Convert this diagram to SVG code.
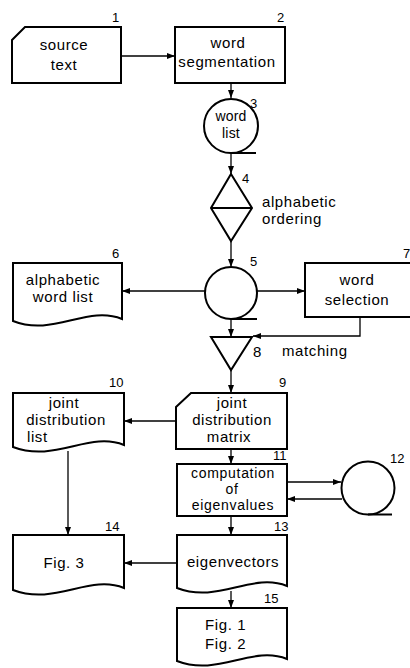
<svg xmlns="http://www.w3.org/2000/svg" width="410" height="668" viewBox="0 0 410 668">
<style>
.s{fill:none;stroke:#000;stroke-width:2;stroke-linejoin:miter}
.c{fill:none;stroke:#000;stroke-width:1.3}
.t{font-family:"Liberation Sans",Arial,sans-serif;font-size:15px;letter-spacing:0.6px;fill:#000}
.m{text-anchor:middle}
.n{font-family:"Liberation Sans",Arial,sans-serif;font-size:13px;fill:#000}
.k{font-size:14px;letter-spacing:0.7px}
</style>
<defs>
<marker id="a" markerUnits="userSpaceOnUse" markerWidth="8" markerHeight="6" refX="8" refY="3" orient="auto">
<path d="M0,0 L8,3 L0,6 z" fill="#000"/>
</marker>
</defs>
<rect width="410" height="668" fill="#fff"/>
<g id="connectors">
<line class="c" x1="121" y1="56" x2="175" y2="56" marker-end="url(#a)"/>
<line class="c" x1="231" y1="83" x2="231" y2="98" marker-end="url(#a)"/>
<line class="c" x1="231" y1="153" x2="231" y2="174" marker-end="url(#a)"/>
<line class="c" x1="231" y1="241" x2="231" y2="267" marker-end="url(#a)"/>
<line class="c" x1="205" y1="291" x2="122" y2="291" marker-end="url(#a)"/>
<line class="c" x1="257" y1="291" x2="305" y2="291" marker-end="url(#a)"/>
<line class="c" x1="231" y1="319" x2="231" y2="337" marker-end="url(#a)"/>
<polyline class="c" points="360,317 360,336 253,336" marker-end="url(#a)"/>
<line class="c" x1="231" y1="370" x2="231" y2="393" marker-end="url(#a)"/>
<line class="c" x1="176" y1="421" x2="124" y2="421" marker-end="url(#a)"/>
<line class="c" x1="68" y1="451" x2="68" y2="535" marker-end="url(#a)"/>
<line class="c" x1="231" y1="449" x2="231" y2="464" marker-end="url(#a)"/>
<line class="c" x1="287" y1="482" x2="341" y2="482" marker-end="url(#a)"/>
<line class="c" x1="342" y1="499" x2="287" y2="499" marker-end="url(#a)"/>
<line class="c" x1="231" y1="516" x2="231" y2="535" marker-end="url(#a)"/>
<line class="c" x1="177" y1="563" x2="124" y2="563" marker-end="url(#a)"/>
<line class="c" x1="231" y1="591" x2="231" y2="608" marker-end="url(#a)"/>
</g>
<g id="n1">
<path class="s" d="M12,40 L25,27 H121 V83 H12 Z"/>
<text class="t m" x="64" y="50">source</text>
<text class="t m" x="64" y="70">text</text>
<text class="n" x="112" y="22">1</text>
</g>
<g id="n2">
<rect class="s" x="175" y="27" width="110" height="56"/>
<text class="t m" x="228" y="48">word</text>
<text class="t m" x="227" y="67">segmentation</text>
<text class="n" x="277" y="22">2</text>
</g>
<g id="n3">
<circle class="s" cx="231" cy="126" r="27"/>
<line class="s" x1="231" y1="153" x2="256" y2="153"/>
<text class="t m" x="231" y="121" style="font-size:14px;letter-spacing:0.2px">word</text>
<text class="t m" x="231" y="138" style="font-size:14px;letter-spacing:0.2px">list</text>
<text class="n" x="250" y="108">3</text>
</g>
<g id="n4">
<path class="s" d="M231,174 L252,208 L231,241 L211,208 Z M211,208 H252"/>
<text class="n" x="242" y="183">4</text>
<text class="t" x="262" y="207">alphabetic</text>
<text class="t" x="262" y="224">ordering</text>
</g>
<g id="n5">
<circle class="s" cx="231" cy="293" r="26"/>
<line class="s" x1="231" y1="319" x2="257" y2="319"/>
<text class="n" x="250" y="266">5</text>
</g>
<g id="n6">
<path class="s" d="M13,263 H122 V319 C87,305 53,337 13,321 Z"/>
<text class="t m" x="63" y="285">alphabetic</text>
<text class="t m" x="63" y="302">word  list</text>
<text class="n" x="112" y="258">6</text>
</g>
<g id="n7">
<rect class="s" x="305" y="263" width="120" height="54"/>
<text class="t m" x="357" y="285">word</text>
<text class="t m" x="357" y="305">selection</text>
<text class="n" x="403" y="258">7</text>
</g>
<g id="n8">
<path class="s" d="M211,337 H252 L231,370 Z"/>
<text class="n" x="253" y="357" style="font-size:15px">8</text>
<text class="t" x="282" y="356">matching</text>
</g>
<g id="n9">
<path class="s" d="M176,407 L191,393 H287 V449 H176 Z"/>
<text class="t m" x="232" y="408">joint</text>
<text class="t m" x="232" y="425">distribution</text>
<text class="t m" x="229" y="442">matrix</text>
<text class="n" x="279" y="387">9</text>
</g>
<g id="n10">
<path class="s" d="M13,393 H124 V445 C89,431 55,463 13,447 Z"/>
<text class="t m" x="64" y="408">joint</text>
<text class="t m" x="66" y="425">distribution</text>
<text class="t" x="27" y="442">list</text>
<text class="n" x="109" y="387">10</text>
</g>
<g id="n11">
<rect class="s" x="177" y="464" width="110" height="52"/>
<text class="t m k" x="233" y="478">computation</text>
<text class="t m k" x="232" y="494">of</text>
<text class="t m k" x="233" y="510">eigenvalues</text>
<text class="n" x="273" y="460">11</text>
</g>
<g id="n12">
<circle class="s" cx="368" cy="488" r="26.5"/>
<line class="s" x1="368" y1="514.5" x2="392" y2="514.5"/>
<text class="n" x="390" y="463">12</text>
</g>
<g id="n13">
<path class="s" d="M177,535 H287 V586 C252,572 218,604 177,588 Z"/>
<text class="t m" x="233" y="567">eigenvectors</text>
<text class="n" x="274" y="531">13</text>
</g>
<g id="n14">
<path class="s" d="M13,535 H124 V588 C89,574 55,606 13,590 Z"/>
<text class="t m" x="64" y="568">Fig. 3</text>
<text class="n" x="105" y="531">14</text>
</g>
<g id="n15">
<path class="s" d="M177,608 H287 V659 C252,645 218,677 177,661 Z"/>
<text class="t" x="205" y="630">Fig. 1</text>
<text class="t" x="205" y="649">Fig. 2</text>
<text class="n" x="264" y="603">15</text>
</g>
</svg>
